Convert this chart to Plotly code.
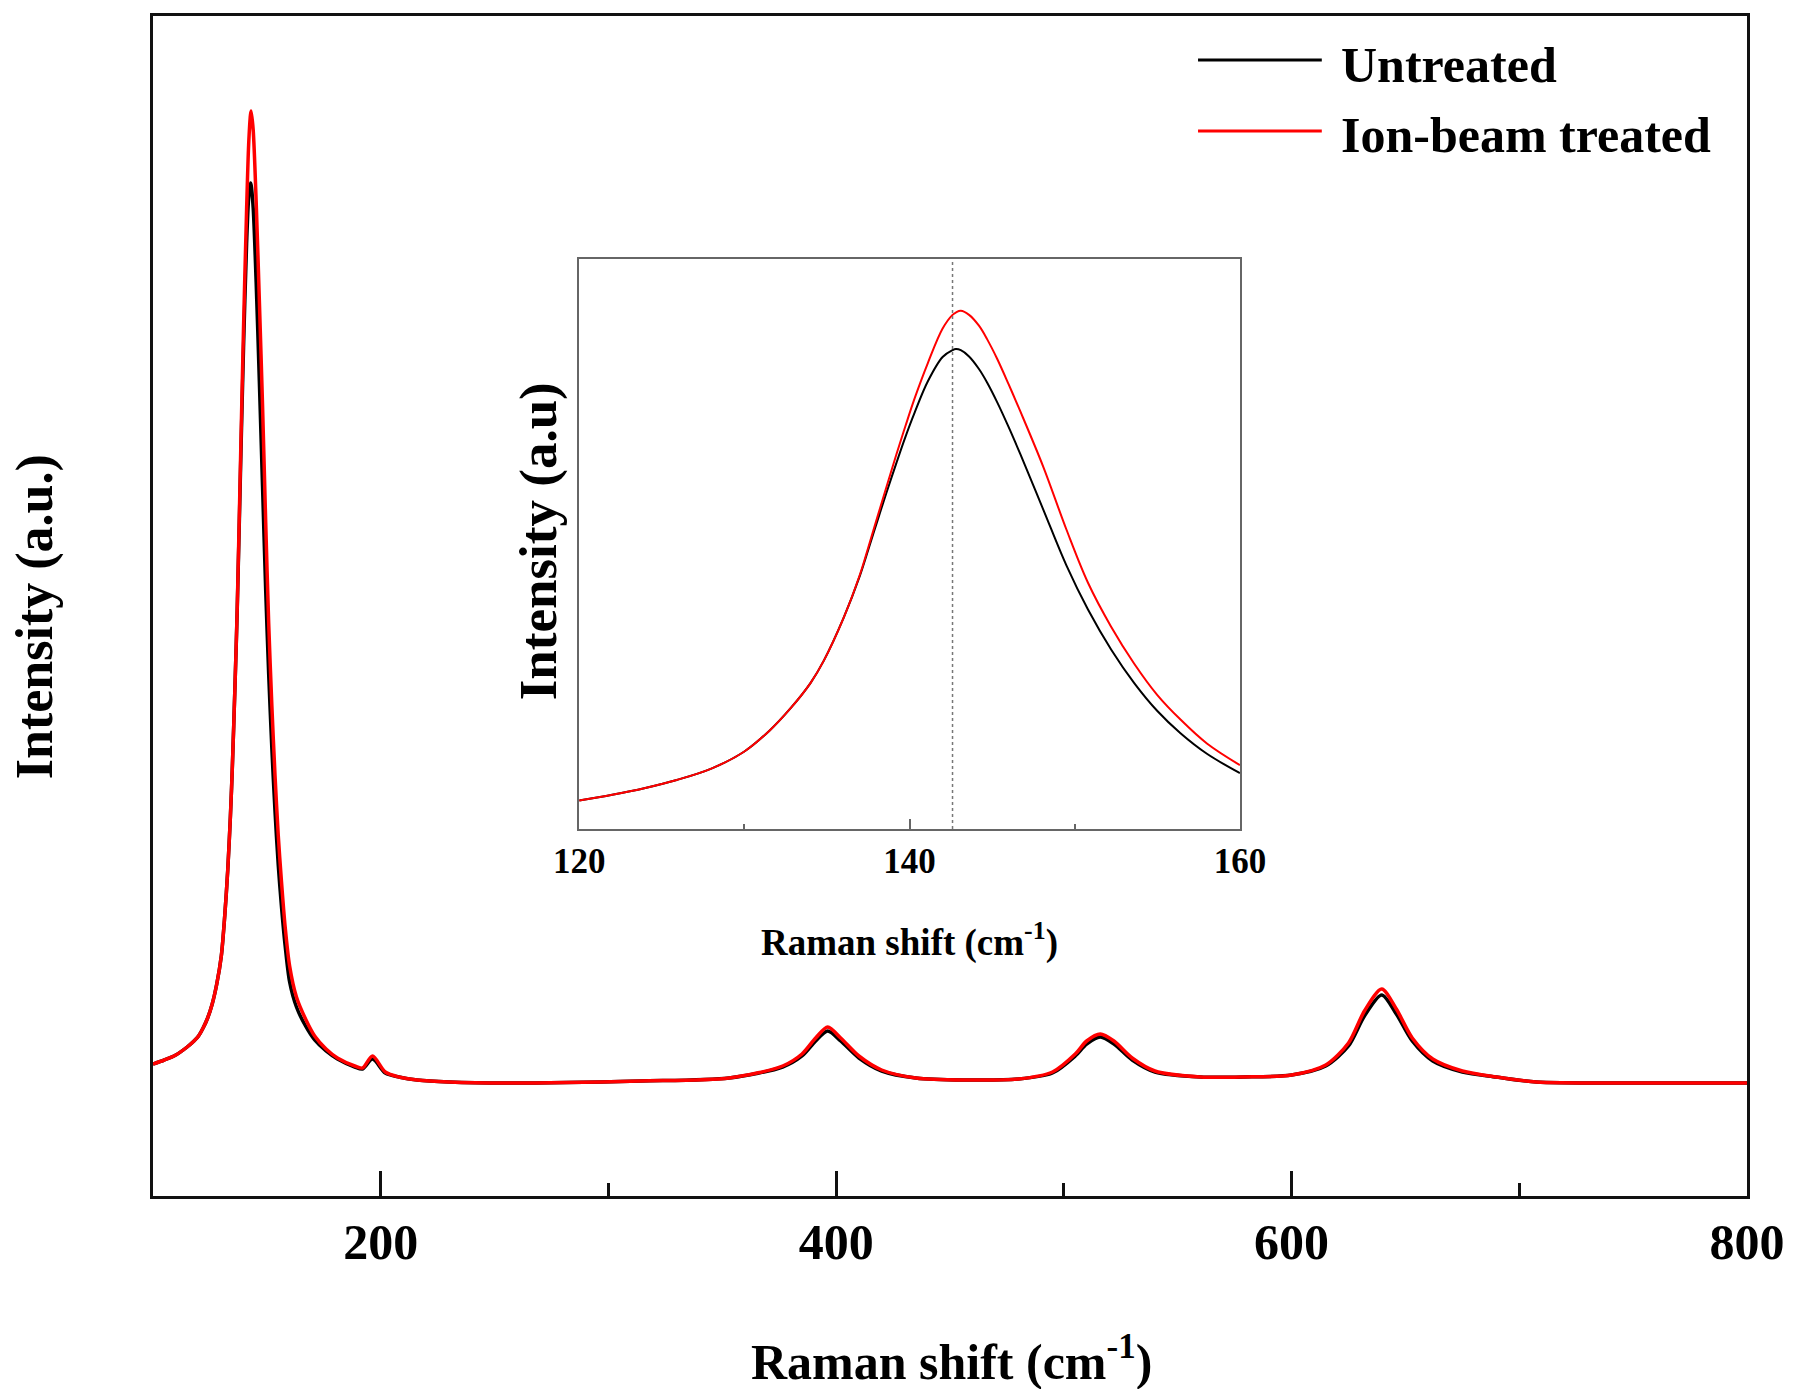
import plotly.graph_objects as go

# ---------------- data ----------------
series_names = ["Untreated", "Ion-beam treated"]
series_colors = ["#000000", "#ff0000"]

# main spectrum, Raman shift (cm-1)
main_x = [100, 105, 110, 115, 118, 120, 122, 124, 126, 128, 130, 131.5, 132.8, 134, 134.8,
          136, 137, 138.6, 139.75, 141.1, 142, 142.8, 143.1, 144, 145.3, 146.7, 148.1,
          149.5, 150.8, 152.2, 153.6, 155, 156.4, 158, 160, 163, 167, 171, 176, 181,
          188.6, 192, 196.4, 202, 208, 216, 230, 255, 314, 353, 376.5, 385,
          391, 396.3, 402, 410, 420, 435, 456, 480, 495, 505, 510, 516, 522, 530, 540,
          560, 579, 600, 615, 625, 632, 639.6, 646, 653, 662, 675, 690, 707.5, 750, 800]
main_untreated = [132, 136, 141, 149, 155, 160, 168, 178, 192, 212, 240, 280, 325, 380, 426,
                  510, 587, 742, 848, 952, 998, 1013, 1011, 988, 914, 815, 710,
                  605, 522, 447, 384, 331, 290, 251, 214, 189, 170, 156, 145, 137,
                  129, 127, 137, 123, 119, 116, 114, 113, 115, 118, 129, 140,
                  155, 165, 155, 138, 125, 118, 116, 117, 123, 140, 152, 159, 152, 136, 124,
                  119, 119, 121, 130, 150, 180, 201, 182, 155, 135, 124, 119, 114, 113, 113]
main_treated = [132, 136, 141, 149, 155, 160, 168, 178, 192, 212, 240, 280, 325, 380, 426,
                510, 589, 753, 868, 986, 1051, 1081, 1085, 1066, 995, 896, 791,
                673, 573, 490, 420, 361, 315, 270, 230, 199, 177, 160, 147, 138,
                130, 128, 140, 124, 119, 116, 114, 113, 115, 118, 130, 142,
                158, 169, 158, 140, 126, 118, 116, 117, 124, 142, 155, 162, 155, 138, 125,
                119, 119, 121, 131, 153, 185, 207, 187, 158, 137, 125, 119, 114, 113, 113]

# inset: zoom of the main peak (relative intensity)
inset_x = [120, 122, 124, 125.9, 128, 130, 131.5, 132.8, 134, 134.8, 136, 137, 137.5, 138.1,
           138.6, 139.2, 139.75, 140.3, 141.1, 142, 142.6, 142.8, 143.1, 143.6, 144.2, 144.7,
           145.3, 146.0, 146.7, 148.1, 149.5, 150.8, 152.2, 153.6, 155, 156.4, 158, 160]
inset_untreated = [0.050, 0.060, 0.072, 0.086, 0.106, 0.136, 0.172, 0.212, 0.256, 0.295,
                   0.370, 0.445, 0.490, 0.545, 0.590, 0.642, 0.688, 0.730, 0.785, 0.828,
                   0.840, 0.842, 0.840, 0.829, 0.807, 0.783, 0.749, 0.705, 0.658, 0.560,
                   0.462, 0.385, 0.315, 0.256, 0.207, 0.168, 0.132, 0.098]
inset_treated = [0.050, 0.060, 0.072, 0.086, 0.106, 0.136, 0.172, 0.212, 0.256, 0.295,
                 0.370, 0.447, 0.494, 0.552, 0.600, 0.657, 0.707, 0.755, 0.817, 0.878,
                 0.902, 0.906, 0.909, 0.902, 0.883, 0.859, 0.825, 0.780, 0.733, 0.635,
                 0.525, 0.432, 0.355, 0.290, 0.235, 0.192, 0.150, 0.112]
inset_marker_x = 142.6

main_major_ticks = [200, 400, 600, 800]
main_minor_ticks = [300, 500, 700]
inset_major_ticks = [120, 140, 160]
inset_minor_ticks = [130, 150]

# ---------------- figure ----------------
W, H = 1797, 1389
L, R, T, B = 153, 47, 16, 193
PW, PH = W - L - R, H - T - B


def px_x(p):
    return (p - L) / PW


def px_y(p):
    return (H - B - p) / PH


FONT = "Liberation Serif, Times New Roman, serif"

fig = go.Figure()
for name, col, ys in zip(series_names, series_colors, [main_untreated, main_treated]):
    fig.add_trace(go.Scatter(x=main_x, y=ys, mode="lines", name=name,
                             line=dict(color=col, width=3.5, shape="spline", smoothing=0.8),
                             xaxis="x", yaxis="y", showlegend=False))
for name, col, ys in zip(series_names, series_colors, [inset_untreated, inset_treated]):
    fig.add_trace(go.Scatter(x=inset_x, y=ys, mode="lines", name=name,
                             line=dict(color=col, width=2, shape="spline", smoothing=1.0),
                             xaxis="x2", yaxis="y2", showlegend=False))

fig.update_layout(
    width=W, height=H,
    margin=dict(l=L, r=R, t=T, b=B),
    paper_bgcolor="white", plot_bgcolor="white",
    font=dict(family=FONT, color="black"),
    xaxis=dict(range=[100, 800], domain=[0, 1], showgrid=False, zeroline=False,
               showline=True, linecolor="#111", linewidth=3, mirror=True,
               tickmode="array", tickvals=main_major_ticks, ticks="inside",
               ticklen=25, tickwidth=3, tickcolor="#111",
               minor=dict(tickmode="array", tickvals=main_minor_ticks, ticks="inside",
                          ticklen=13, tickwidth=3, tickcolor="#111"),
               tickfont=dict(family=FONT, size=50, weight="bold"),
               ticklabelstandoff=0),
    yaxis=dict(range=[0, 1180], domain=[0, 1], showgrid=False, zeroline=False,
               showline=True, linecolor="#111", linewidth=3, mirror=True,
               showticklabels=False, ticks=""),
    xaxis2=dict(range=[120, 160], domain=[px_x(580), px_x(1242)], anchor="y2",
                showgrid=False, zeroline=False, showline=True, linecolor="#666",
                linewidth=2, mirror=True, tickmode="array", tickvals=inset_major_ticks,
                ticks="inside", ticklen=10, tickwidth=1.5, tickcolor="#666",
                minor=dict(tickmode="array", tickvals=inset_minor_ticks, ticks="inside",
                           ticklen=5, tickwidth=1.5, tickcolor="#666"),
                tickfont=dict(family=FONT, size=35, weight="bold"),
                ticklabelstandoff=0),
    yaxis2=dict(range=[0, 1], domain=[px_y(829), px_y(259)], anchor="x2",
                showgrid=False, zeroline=False, showline=True, linecolor="#666",
                linewidth=2, mirror=True, showticklabels=False, ticks=""),
)

# dotted reference line in inset
fig.add_shape(type="line", xref="x2", yref="y2 domain", x0=inset_marker_x, x1=inset_marker_x,
              y0=0, y1=1, line=dict(color="#777", width=1.5, dash="dot"))

# axis titles
fig.add_annotation(text="<b>Raman shift (cm<sup>-1</sup>)</b>", xref="paper", yref="paper",
                   x=px_x(953), y=px_y(1358), showarrow=False, xanchor="center", yanchor="middle",
                   font=dict(family=FONT, size=50))
fig.add_annotation(text="<b>Intensity (a.u.)</b>", xref="paper", yref="paper",
                   x=px_x(35), y=px_y(617), showarrow=False, xanchor="center", yanchor="middle",
                   textangle=-90, font=dict(family=FONT, size=52))
fig.add_annotation(text="<b>Raman shift (cm<sup>-1</sup>)</b>", xref="paper", yref="paper",
                   x=px_x(911), y=px_y(940), showarrow=False, xanchor="center", yanchor="middle",
                   font=dict(family=FONT, size=37))
fig.add_annotation(text="<b>Intensity (a.u)</b>", xref="paper", yref="paper",
                   x=px_x(539), y=px_y(541), showarrow=False, xanchor="center", yanchor="middle",
                   textangle=-90, font=dict(family=FONT, size=53))

# legend (drawn manually to match the long line samples)
legend_rows_y = [60, 131]
legend_text_y = [65, 135]
for name, col, ly, ty in zip(series_names, series_colors, legend_rows_y, legend_text_y):
    fig.add_shape(type="line", xref="paper", yref="paper", x0=px_x(1200), x1=px_x(1324),
                  y0=px_y(ly), y1=px_y(ly), line=dict(color=col, width=3))
    fig.add_annotation(text=f"<b>{name}</b>", xref="paper", yref="paper",
                       x=px_x(1341), y=px_y(ty), showarrow=False, xanchor="left",
                       yanchor="middle", font=dict(family=FONT, size=50))

fig.write_html("out.html")
